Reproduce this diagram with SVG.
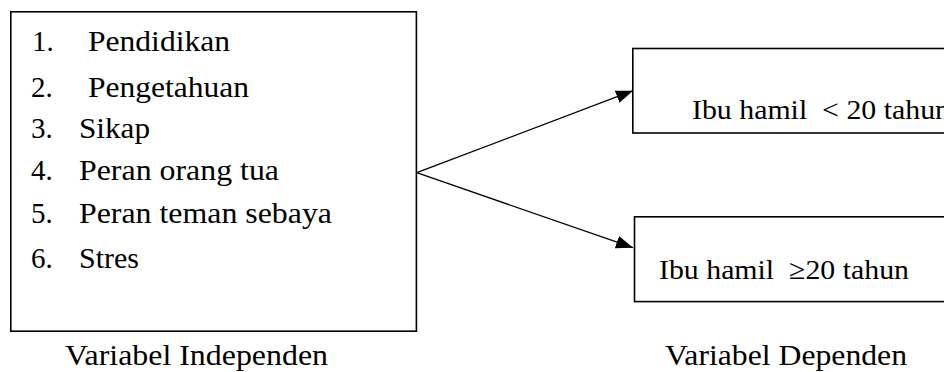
<svg xmlns="http://www.w3.org/2000/svg" width="944" height="372" viewBox="0 0 944 372">
<style>
.box{fill:#fff;stroke:#000;stroke-width:1.6}
.t{font-family:'Liberation Serif','Times New Roman',serif;font-size:29px;fill:#000}
.s{font-family:'Liberation Serif','Times New Roman',serif;font-size:28px;fill:#000}
.c{stroke:#000;stroke-width:1.3;fill:none}
</style>
<defs>
<marker id="ah" markerUnits="userSpaceOnUse" markerWidth="18" markerHeight="14" refX="17" refY="6.5" orient="auto">
<path d="M0,0 L17,6.5 L0,13 z" fill="#000"/>
</marker>
</defs>
<rect width="944" height="372" fill="#fff"/>
<g id="independen">
<rect class="box" x="10.8" y="11.8" width="405.6" height="319.4"/>
<text class="t" x="32" y="51">1.</text><text class="t" x="88" y="51" textLength="142" lengthAdjust="spacingAndGlyphs">Pendidikan</text>
<text class="t" x="31" y="97">2.</text><text class="t" x="88" y="97" textLength="161" lengthAdjust="spacingAndGlyphs">Pengetahuan</text>
<text class="t" x="31" y="138">3.</text><text class="t" x="79" y="138" textLength="71" lengthAdjust="spacingAndGlyphs">Sikap</text>
<text class="t" x="31" y="180">4.</text><text class="t" x="79" y="180" textLength="200" lengthAdjust="spacingAndGlyphs">Peran orang tua</text>
<text class="t" x="31" y="223">5.</text><text class="t" x="79" y="223" textLength="253" lengthAdjust="spacingAndGlyphs">Peran teman sebaya</text>
<text class="t" x="31" y="268">6.</text><text class="t" x="79" y="268" textLength="60" lengthAdjust="spacingAndGlyphs">Stres</text>
</g>
<g id="label-independen">
<text class="t" x="65" y="365" textLength="263" lengthAdjust="spacingAndGlyphs">Variabel Independen</text>
</g>
<g id="dep1">
<rect class="box" x="632.8" y="48.5" width="330" height="84.5"/>
<text class="s" x="692" y="119" xml:space="preserve" textLength="258" lengthAdjust="spacingAndGlyphs">Ibu hamil  &lt; 20 tahun</text>
</g>
<g id="dep2">
<rect class="box" x="634.5" y="216.8" width="330" height="84.8"/>
<text class="s" x="659" y="279" xml:space="preserve" textLength="250" lengthAdjust="spacingAndGlyphs">Ibu hamil  ≥20 tahun</text>
</g>
<g id="label-dependen">
<text class="t" x="665" y="365" textLength="242" lengthAdjust="spacingAndGlyphs">Variabel Dependen</text>
</g>
<g id="connectors">
<line class="c" x1="416.7" y1="172.7" x2="633" y2="90.7" marker-end="url(#ah)"/>
<line class="c" x1="416.7" y1="172.7" x2="633" y2="247.7" marker-end="url(#ah)"/>
</g>
</svg>
